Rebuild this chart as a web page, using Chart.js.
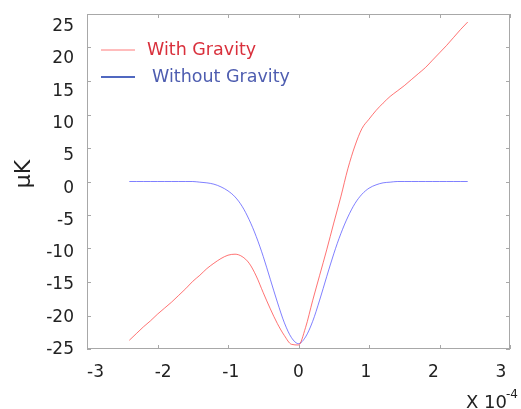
<!DOCTYPE html>
<html>
<head>
<meta charset="utf-8">
<script src="https://cdn.jsdelivr.net/npm/chart.js@4"></script>
<style>
  body { margin: 0; background: #fff; }
</style>
</head>
<body>
<canvas id="myChart" width="521" height="409"></canvas>
<script>
// position along the axis (units of 1e-4)
const xs = [-2.4, -2.3, -2.2, -2.1, -2.0, -1.9, -1.8, -1.7, -1.6, -1.5,
  -1.4, -1.3, -1.2, -1.1, -1.0, -0.9, -0.8, -0.7, -0.6, -0.5,
  -0.4, -0.3, -0.2, -0.1, 0.0, 0.1, 0.2, 0.3, 0.4, 0.5,
  0.6, 0.7, 0.8, 0.9, 1.0, 1.1, 1.2, 1.3, 1.4, 1.5,
  1.6, 1.7, 1.8, 1.9, 2.0, 2.1, 2.2, 2.3, 2.4];

const withGravity = [-23.7, -22.7, -21.7, -20.8, -19.8, -18.9, -18.0, -17.0, -16.0, -14.9,
  -14.0, -13.0, -12.2, -11.5, -11.0, -10.85, -11.2, -12.2, -14.1, -16.6,
  -19.0, -21.2, -23.0, -24.3, -24.4, -21.8, -17.8, -14.0, -10.2, -6.2,
  -2.3, 1.9, 5.3, 7.9, 9.3, 10.6, 11.7, 12.7, 13.5, 14.3,
  15.2, 16.1, 17.0, 18.1, 19.2, 20.3, 21.5, 22.7, 23.8];

const withoutGravity = [0, 0, 0, 0, 0, 0, 0, 0, 0, 0,
  -0.1, -0.2, -0.4, -0.8, -1.4, -2.3, -3.7, -5.7, -8.2, -11.2,
  -14.6, -18.0, -21.1, -23.3, -24.2, -23.2, -20.9, -17.7, -14.2, -10.8,
  -7.8, -5.3, -3.3, -1.9, -1.0, -0.5, -0.2, -0.1, 0, 0,
  0, 0, 0, 0, 0, 0, 0, 0, 0];

const xTicks = [-3, -2, -1, 0, 1, 2, 3];
const yTicks = [25, 20, 15, 10, 5, 0, -5, -10, -15, -20, -25];

const labelFont = '17px "DejaVu Sans"';

// frame with inward ticks, tick labels, legend and axis titles
const decor = {
  id: 'decor',
  afterDraw(chart) {
    const ctx = chart.ctx;
    const area = chart.chartArea;
    const x = chart.scales.x, y = chart.scales.y;
    const xl = chart.scales.xl, yl = chart.scales.yl;
    ctx.save();

    ctx.strokeStyle = '#a8a8a8';
    ctx.lineWidth = 1;
    ctx.strokeRect(area.left + 0.5, area.top + 0.5, area.width - 1, area.height - 1);
    ctx.beginPath();
    yTicks.forEach(v => {
      const py = Math.round(y.getPixelForValue(v)) + 0.5;
      ctx.moveTo(area.left, py); ctx.lineTo(area.left + 4, py);
      ctx.moveTo(area.right, py); ctx.lineTo(area.right - 4, py);
    });
    xTicks.forEach(v => {
      const px = Math.round(x.getPixelForValue(v)) + 0.5;
      ctx.moveTo(px, area.bottom); ctx.lineTo(px, area.bottom - 4);
      ctx.moveTo(px, area.top); ctx.lineTo(px, area.top + 4);
    });
    ctx.stroke();

    ctx.fillStyle = '#222';
    ctx.font = labelFont;
    ctx.textBaseline = 'middle';
    ctx.textAlign = 'right';
    yTicks.forEach(v => ctx.fillText(String(v), area.left - 13, yl.getPixelForValue(v) + 2));
    ctx.textAlign = 'center';
    xTicks.forEach(v => ctx.fillText(String(v), xl.getPixelForValue(v), area.bottom + 24));

    // exponent note
    ctx.textAlign = 'left';
    ctx.font = '18px "DejaVu Sans"';
    ctx.fillText('X 10', area.right - 44, area.bottom + 54);
    ctx.font = '12px "DejaVu Sans"';
    ctx.fillText('-4', area.right - 4, area.bottom + 46);

    // y title
    ctx.save();
    ctx.translate(24, 174);
    ctx.rotate(-Math.PI / 2);
    ctx.textAlign = 'center';
    ctx.font = '22px "DejaVu Sans"';
    ctx.fillText('μK', 0, 0);
    ctx.restore();

    // legend
    const legend = [
      { sample: '#ff7a7a', width: 1, text: '#d9303c', dx: 60 },
      { sample: '#5068c0', width: 2, text: '#4e5db0', dx: 65 }
    ];
    ctx.font = '17.5px "DejaVu Sans"';
    chart.data.datasets.forEach((ds, i) => {
      const item = legend[i];
      const ly = area.top + 36 + i * 27;
      ctx.strokeStyle = item.sample;
      ctx.lineWidth = item.width;
      ctx.beginPath();
      ctx.moveTo(area.left + 14, ly);
      ctx.lineTo(area.left + 48, ly);
      ctx.stroke();
      ctx.fillStyle = item.text;
      ctx.fillText(ds.label, area.left + item.dx, ly);
    });
    ctx.restore();
  }
};

new Chart(document.getElementById('myChart'), {
  type: 'line',
  data: {
    datasets: [
      {
        label: 'With Gravity',
        data: xs.map((v, i) => ({ x: v, y: withGravity[i] })),
        borderColor: 'rgba(255, 40, 40, 0.65)',
        borderWidth: 1,
        pointRadius: 0,
        cubicInterpolationMode: 'monotone',
        fill: false
      },
      {
        label: 'Without Gravity',
        data: xs.map((v, i) => ({ x: v, y: withoutGravity[i] })),
        borderColor: 'rgba(60, 60, 255, 0.65)',
        borderWidth: 1,
        pointRadius: 0,
        cubicInterpolationMode: 'monotone',
        fill: false
      }
    ]
  },
  options: {
    responsive: false,
    animation: false,
    devicePixelRatio: 1,
    layout: { padding: { left: 87, right: 11, top: 14, bottom: 60 } },
    scales: {
      x: { type: 'linear', min: -3, max: 3, display: false },
      y: { type: 'linear', min: -25, max: 25, display: false },
      // label placement scales (the labels in the picture sit on a slightly tighter spacing)
      xl: { type: 'linear', axis: 'x', position: 'bottom', min: -3.127, max: 3.133, display: false },
      yl: { type: 'linear', axis: 'y', position: 'left', min: -25.2, max: 26.63, display: false }
    },
    plugins: {
      legend: { display: false },
      tooltip: { enabled: false }
    }
  },
  plugins: [decor]
});
</script>
</body>
</html>
